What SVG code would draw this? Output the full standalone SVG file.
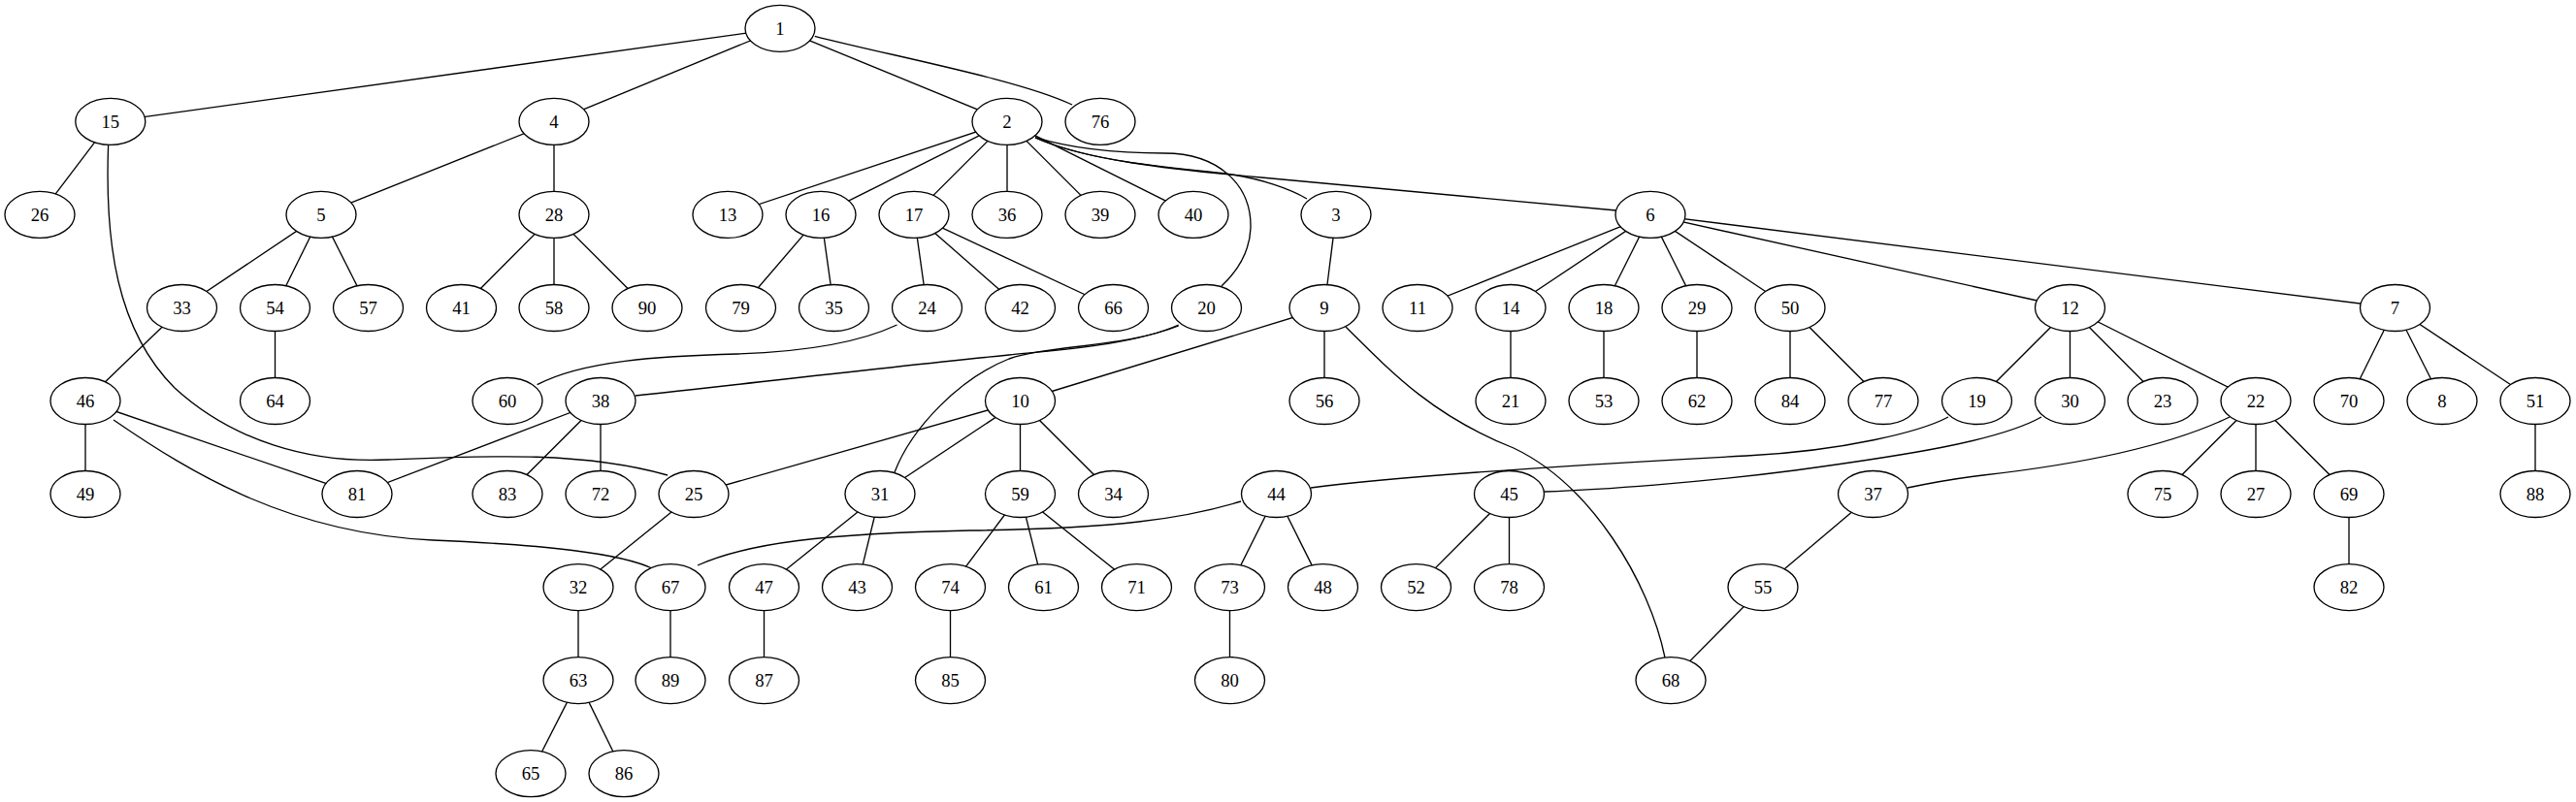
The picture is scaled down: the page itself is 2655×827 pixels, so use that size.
<svg xmlns="http://www.w3.org/2000/svg" width="2655" height="827" viewBox="0 0 2655 827">
<style>
.bg{fill:#fff}
#edges line,#edges path{stroke:#000;stroke-width:1.33;fill:none}
.n ellipse{fill:#fff;stroke:#000;stroke-width:1.33}
.n text{font-family:"Liberation Serif","Times New Roman",serif;font-size:18.67px;text-anchor:middle;fill:#000}
</style>
<rect class="bg" x="0" y="0" width="2655" height="827"/>
<g id="edges">
<line x1="804" y1="29.3" x2="113.8" y2="125.4"/>
<line x1="804" y1="29.3" x2="571" y2="125.4"/>
<line x1="804" y1="29.3" x2="1038" y2="125.4"/>
<path d="M839.7,37.3 C920,58 1050,82 1105,108"/>
<line x1="113.8" y1="125.4" x2="41" y2="221.4"/>
<path d="M111.6,150 C108,250 120,340 180,400 C240,455 320,478 400,474 C500,470 600,465 688,490"/>
<line x1="571" y1="125.4" x2="331" y2="221.4"/>
<line x1="571" y1="125.4" x2="571" y2="221.4"/>
<line x1="331" y1="221.4" x2="187.5" y2="317.5"/>
<line x1="331" y1="221.4" x2="283.5" y2="317.5"/>
<line x1="331" y1="221.4" x2="379.5" y2="317.5"/>
<line x1="571" y1="221.4" x2="475.5" y2="317.5"/>
<line x1="571" y1="221.4" x2="571" y2="317.5"/>
<line x1="571" y1="221.4" x2="667" y2="317.5"/>
<line x1="187.5" y1="317.5" x2="88" y2="413.5"/>
<line x1="283.5" y1="317.5" x2="283.5" y2="413.5"/>
<line x1="88" y1="413.5" x2="88" y2="509.5"/>
<line x1="88" y1="413.5" x2="368" y2="509.5"/>
<path d="M117,433 C200,490 300,550 446,557 C560,562 640,570 674,587"/>
<line x1="619" y1="413.5" x2="368" y2="509.5"/>
<line x1="619" y1="413.5" x2="523" y2="509.5"/>
<line x1="619" y1="413.5" x2="619" y2="509.5"/>
<line x1="1038" y1="125.4" x2="750" y2="221.4"/>
<line x1="1038" y1="125.4" x2="846" y2="221.4"/>
<line x1="1038" y1="125.4" x2="942" y2="221.4"/>
<line x1="1038" y1="125.4" x2="1038" y2="221.4"/>
<line x1="1038" y1="125.4" x2="1134" y2="221.4"/>
<line x1="1038" y1="125.4" x2="1230" y2="221.4"/>
<path d="M1067,141.7 C1110,155 1160,158 1200,158 C1255,158 1290,190 1289,235 C1288,260 1275,280 1259,295"/>
<path d="M1067,142 C1120,166 1200,172 1263,179 C1300,184 1330,195 1347,205"/>
<path d="M1067,142 C1120,165 1200,174 1300,183 C1450,197 1600,210 1666,217"/>
<line x1="846" y1="221.4" x2="763.5" y2="317.5"/>
<line x1="846" y1="221.4" x2="859.5" y2="317.5"/>
<line x1="942" y1="221.4" x2="955.5" y2="317.5"/>
<line x1="942" y1="221.4" x2="1051.5" y2="317.5"/>
<line x1="942" y1="221.4" x2="1147.5" y2="317.5"/>
<path d="M924.5,335 C880,356 820,363 760,365 C680,367 600,372 553.6,396.7"/>
<path d="M1214.7,335 C1170,355 1100,360 1040,366 C900,380 750,398 655,408"/>
<path d="M1214.7,336 C1160,358 1080,356 1040,370 C990,390 940,440 922,487"/>
<line x1="1377" y1="221.4" x2="1365" y2="317.5"/>
<line x1="1365" y1="317.5" x2="1365" y2="413.5"/>
<line x1="1365" y1="317.5" x2="1051.5" y2="413.5"/>
<path d="M1387,337 C1440,390 1480,430 1560,462 C1640,500 1700,600 1716,678"/>
<line x1="1051.5" y1="413.5" x2="715" y2="509.5"/>
<line x1="1051.5" y1="413.5" x2="907" y2="509.5"/>
<line x1="1051.5" y1="413.5" x2="1051.5" y2="509.5"/>
<line x1="1051.5" y1="413.5" x2="1147.5" y2="509.5"/>
<line x1="715" y1="509.5" x2="596" y2="605.6"/>
<line x1="907" y1="509.5" x2="787.5" y2="605.6"/>
<line x1="907" y1="509.5" x2="883.5" y2="605.6"/>
<line x1="1051.5" y1="509.5" x2="979.5" y2="605.6"/>
<line x1="1051.5" y1="509.5" x2="1075.5" y2="605.6"/>
<line x1="1051.5" y1="509.5" x2="1171.5" y2="605.6"/>
<path d="M1279,517 C1220,535 1150,545 1000,547 C850,550 770,560 719,583"/>
<line x1="1315.5" y1="509.5" x2="1267.5" y2="605.6"/>
<line x1="1315.5" y1="509.5" x2="1363.5" y2="605.6"/>
<line x1="1555.5" y1="509.5" x2="1459.5" y2="605.6"/>
<line x1="1555.5" y1="509.5" x2="1555.5" y2="605.6"/>
<line x1="1930.5" y1="509.5" x2="1817" y2="605.6"/>
<line x1="1817" y1="605.6" x2="1722" y2="701.6"/>
<line x1="1701" y1="221.4" x2="1461" y2="317.5"/>
<line x1="1701" y1="221.4" x2="1557" y2="317.5"/>
<line x1="1701" y1="221.4" x2="1653" y2="317.5"/>
<line x1="1701" y1="221.4" x2="1749" y2="317.5"/>
<line x1="1701" y1="221.4" x2="1845" y2="317.5"/>
<line x1="1701" y1="221.4" x2="2133.5" y2="317.5"/>
<line x1="1701" y1="221.4" x2="2468.5" y2="317.5"/>
<line x1="1557" y1="317.5" x2="1557" y2="413.5"/>
<line x1="1653" y1="317.5" x2="1653" y2="413.5"/>
<line x1="1749" y1="317.5" x2="1749" y2="413.5"/>
<line x1="1845" y1="317.5" x2="1845" y2="413.5"/>
<line x1="1845" y1="317.5" x2="1941" y2="413.5"/>
<line x1="2133.5" y1="317.5" x2="2037.5" y2="413.5"/>
<line x1="2133.5" y1="317.5" x2="2133.5" y2="413.5"/>
<line x1="2133.5" y1="317.5" x2="2229" y2="413.5"/>
<line x1="2133.5" y1="317.5" x2="2325" y2="413.5"/>
<path d="M2008,430 C1980,445 1900,465 1800,470 C1650,478 1450,490 1351,503"/>
<path d="M2104,430 C2060,455 1960,470 1850,485 C1750,498 1650,505 1592,507"/>
<path d="M2298,430 C2240,458 2150,478 2044,490 C2010,494 1985,499 1966,503"/>
<line x1="2325" y1="413.5" x2="2229" y2="509.5"/>
<line x1="2325" y1="413.5" x2="2325" y2="509.5"/>
<line x1="2325" y1="413.5" x2="2421" y2="509.5"/>
<line x1="2421" y1="509.5" x2="2421" y2="605.6"/>
<line x1="2468.5" y1="317.5" x2="2421" y2="413.5"/>
<line x1="2468.5" y1="317.5" x2="2517" y2="413.5"/>
<line x1="2468.5" y1="317.5" x2="2613" y2="413.5"/>
<line x1="2613" y1="413.5" x2="2613" y2="509.5"/>
<line x1="596" y1="605.6" x2="596" y2="701.6"/>
<line x1="596" y1="701.6" x2="547" y2="797.7"/>
<line x1="596" y1="701.6" x2="643" y2="797.7"/>
<line x1="691" y1="605.6" x2="691" y2="701.6"/>
<line x1="787.5" y1="605.6" x2="787.5" y2="701.6"/>
<line x1="979.5" y1="605.6" x2="979.5" y2="701.6"/>
<line x1="1267.5" y1="605.6" x2="1267.5" y2="701.6"/>
</g>
<g id="n1" class="n"><ellipse cx="804" cy="29.3" rx="36" ry="24"/><text x="804" y="35.8">1</text></g>
<g id="n15" class="n"><ellipse cx="113.8" cy="125.4" rx="36" ry="24"/><text x="113.8" y="131.9">15</text></g>
<g id="n4" class="n"><ellipse cx="571" cy="125.4" rx="36" ry="24"/><text x="571" y="131.9">4</text></g>
<g id="n2" class="n"><ellipse cx="1038" cy="125.4" rx="36" ry="24"/><text x="1038" y="131.9">2</text></g>
<g id="n76" class="n"><ellipse cx="1134" cy="125.4" rx="36" ry="24"/><text x="1134" y="131.9">76</text></g>
<g id="n26" class="n"><ellipse cx="41" cy="221.4" rx="36" ry="24"/><text x="41" y="227.9">26</text></g>
<g id="n5" class="n"><ellipse cx="331" cy="221.4" rx="36" ry="24"/><text x="331" y="227.9">5</text></g>
<g id="n28" class="n"><ellipse cx="571" cy="221.4" rx="36" ry="24"/><text x="571" y="227.9">28</text></g>
<g id="n13" class="n"><ellipse cx="750" cy="221.4" rx="36" ry="24"/><text x="750" y="227.9">13</text></g>
<g id="n16" class="n"><ellipse cx="846" cy="221.4" rx="36" ry="24"/><text x="846" y="227.9">16</text></g>
<g id="n17" class="n"><ellipse cx="942" cy="221.4" rx="36" ry="24"/><text x="942" y="227.9">17</text></g>
<g id="n36" class="n"><ellipse cx="1038" cy="221.4" rx="36" ry="24"/><text x="1038" y="227.9">36</text></g>
<g id="n39" class="n"><ellipse cx="1134" cy="221.4" rx="36" ry="24"/><text x="1134" y="227.9">39</text></g>
<g id="n40" class="n"><ellipse cx="1230" cy="221.4" rx="36" ry="24"/><text x="1230" y="227.9">40</text></g>
<g id="n3" class="n"><ellipse cx="1377" cy="221.4" rx="36" ry="24"/><text x="1377" y="227.9">3</text></g>
<g id="n6" class="n"><ellipse cx="1701" cy="221.4" rx="36" ry="24"/><text x="1701" y="227.9">6</text></g>
<g id="n33" class="n"><ellipse cx="187.5" cy="317.5" rx="36" ry="24"/><text x="187.5" y="324">33</text></g>
<g id="n54" class="n"><ellipse cx="283.5" cy="317.5" rx="36" ry="24"/><text x="283.5" y="324">54</text></g>
<g id="n57" class="n"><ellipse cx="379.5" cy="317.5" rx="36" ry="24"/><text x="379.5" y="324">57</text></g>
<g id="n41" class="n"><ellipse cx="475.5" cy="317.5" rx="36" ry="24"/><text x="475.5" y="324">41</text></g>
<g id="n58" class="n"><ellipse cx="571" cy="317.5" rx="36" ry="24"/><text x="571" y="324">58</text></g>
<g id="n90" class="n"><ellipse cx="667" cy="317.5" rx="36" ry="24"/><text x="667" y="324">90</text></g>
<g id="n79" class="n"><ellipse cx="763.5" cy="317.5" rx="36" ry="24"/><text x="763.5" y="324">79</text></g>
<g id="n35" class="n"><ellipse cx="859.5" cy="317.5" rx="36" ry="24"/><text x="859.5" y="324">35</text></g>
<g id="n24" class="n"><ellipse cx="955.5" cy="317.5" rx="36" ry="24"/><text x="955.5" y="324">24</text></g>
<g id="n42" class="n"><ellipse cx="1051.5" cy="317.5" rx="36" ry="24"/><text x="1051.5" y="324">42</text></g>
<g id="n66" class="n"><ellipse cx="1147.5" cy="317.5" rx="36" ry="24"/><text x="1147.5" y="324">66</text></g>
<g id="n20" class="n"><ellipse cx="1243.5" cy="317.5" rx="36" ry="24"/><text x="1243.5" y="324">20</text></g>
<g id="n9" class="n"><ellipse cx="1365" cy="317.5" rx="36" ry="24"/><text x="1365" y="324">9</text></g>
<g id="n11" class="n"><ellipse cx="1461" cy="317.5" rx="36" ry="24"/><text x="1461" y="324">11</text></g>
<g id="n14" class="n"><ellipse cx="1557" cy="317.5" rx="36" ry="24"/><text x="1557" y="324">14</text></g>
<g id="n18" class="n"><ellipse cx="1653" cy="317.5" rx="36" ry="24"/><text x="1653" y="324">18</text></g>
<g id="n29" class="n"><ellipse cx="1749" cy="317.5" rx="36" ry="24"/><text x="1749" y="324">29</text></g>
<g id="n50" class="n"><ellipse cx="1845" cy="317.5" rx="36" ry="24"/><text x="1845" y="324">50</text></g>
<g id="n12" class="n"><ellipse cx="2133.5" cy="317.5" rx="36" ry="24"/><text x="2133.5" y="324">12</text></g>
<g id="n7" class="n"><ellipse cx="2468.5" cy="317.5" rx="36" ry="24"/><text x="2468.5" y="324">7</text></g>
<g id="n46" class="n"><ellipse cx="88" cy="413.5" rx="36" ry="24"/><text x="88" y="420">46</text></g>
<g id="n64" class="n"><ellipse cx="283.5" cy="413.5" rx="36" ry="24"/><text x="283.5" y="420">64</text></g>
<g id="n60" class="n"><ellipse cx="523" cy="413.5" rx="36" ry="24"/><text x="523" y="420">60</text></g>
<g id="n38" class="n"><ellipse cx="619" cy="413.5" rx="36" ry="24"/><text x="619" y="420">38</text></g>
<g id="n10" class="n"><ellipse cx="1051.5" cy="413.5" rx="36" ry="24"/><text x="1051.5" y="420">10</text></g>
<g id="n56" class="n"><ellipse cx="1365" cy="413.5" rx="36" ry="24"/><text x="1365" y="420">56</text></g>
<g id="n21" class="n"><ellipse cx="1557" cy="413.5" rx="36" ry="24"/><text x="1557" y="420">21</text></g>
<g id="n53" class="n"><ellipse cx="1653" cy="413.5" rx="36" ry="24"/><text x="1653" y="420">53</text></g>
<g id="n62" class="n"><ellipse cx="1749" cy="413.5" rx="36" ry="24"/><text x="1749" y="420">62</text></g>
<g id="n84" class="n"><ellipse cx="1845" cy="413.5" rx="36" ry="24"/><text x="1845" y="420">84</text></g>
<g id="n77" class="n"><ellipse cx="1941" cy="413.5" rx="36" ry="24"/><text x="1941" y="420">77</text></g>
<g id="n19" class="n"><ellipse cx="2037.5" cy="413.5" rx="36" ry="24"/><text x="2037.5" y="420">19</text></g>
<g id="n30" class="n"><ellipse cx="2133.5" cy="413.5" rx="36" ry="24"/><text x="2133.5" y="420">30</text></g>
<g id="n23" class="n"><ellipse cx="2229" cy="413.5" rx="36" ry="24"/><text x="2229" y="420">23</text></g>
<g id="n22" class="n"><ellipse cx="2325" cy="413.5" rx="36" ry="24"/><text x="2325" y="420">22</text></g>
<g id="n70" class="n"><ellipse cx="2421" cy="413.5" rx="36" ry="24"/><text x="2421" y="420">70</text></g>
<g id="n8" class="n"><ellipse cx="2517" cy="413.5" rx="36" ry="24"/><text x="2517" y="420">8</text></g>
<g id="n51" class="n"><ellipse cx="2613" cy="413.5" rx="36" ry="24"/><text x="2613" y="420">51</text></g>
<g id="n49" class="n"><ellipse cx="88" cy="509.5" rx="36" ry="24"/><text x="88" y="516">49</text></g>
<g id="n81" class="n"><ellipse cx="368" cy="509.5" rx="36" ry="24"/><text x="368" y="516">81</text></g>
<g id="n83" class="n"><ellipse cx="523" cy="509.5" rx="36" ry="24"/><text x="523" y="516">83</text></g>
<g id="n72" class="n"><ellipse cx="619" cy="509.5" rx="36" ry="24"/><text x="619" y="516">72</text></g>
<g id="n25" class="n"><ellipse cx="715" cy="509.5" rx="36" ry="24"/><text x="715" y="516">25</text></g>
<g id="n31" class="n"><ellipse cx="907" cy="509.5" rx="36" ry="24"/><text x="907" y="516">31</text></g>
<g id="n59" class="n"><ellipse cx="1051.5" cy="509.5" rx="36" ry="24"/><text x="1051.5" y="516">59</text></g>
<g id="n34" class="n"><ellipse cx="1147.5" cy="509.5" rx="36" ry="24"/><text x="1147.5" y="516">34</text></g>
<g id="n44" class="n"><ellipse cx="1315.5" cy="509.5" rx="36" ry="24"/><text x="1315.5" y="516">44</text></g>
<g id="n45" class="n"><ellipse cx="1555.5" cy="509.5" rx="36" ry="24"/><text x="1555.5" y="516">45</text></g>
<g id="n37" class="n"><ellipse cx="1930.5" cy="509.5" rx="36" ry="24"/><text x="1930.5" y="516">37</text></g>
<g id="n75" class="n"><ellipse cx="2229" cy="509.5" rx="36" ry="24"/><text x="2229" y="516">75</text></g>
<g id="n27" class="n"><ellipse cx="2325" cy="509.5" rx="36" ry="24"/><text x="2325" y="516">27</text></g>
<g id="n69" class="n"><ellipse cx="2421" cy="509.5" rx="36" ry="24"/><text x="2421" y="516">69</text></g>
<g id="n88" class="n"><ellipse cx="2613" cy="509.5" rx="36" ry="24"/><text x="2613" y="516">88</text></g>
<g id="n32" class="n"><ellipse cx="596" cy="605.6" rx="36" ry="24"/><text x="596" y="612.1">32</text></g>
<g id="n67" class="n"><ellipse cx="691" cy="605.6" rx="36" ry="24"/><text x="691" y="612.1">67</text></g>
<g id="n47" class="n"><ellipse cx="787.5" cy="605.6" rx="36" ry="24"/><text x="787.5" y="612.1">47</text></g>
<g id="n43" class="n"><ellipse cx="883.5" cy="605.6" rx="36" ry="24"/><text x="883.5" y="612.1">43</text></g>
<g id="n74" class="n"><ellipse cx="979.5" cy="605.6" rx="36" ry="24"/><text x="979.5" y="612.1">74</text></g>
<g id="n61" class="n"><ellipse cx="1075.5" cy="605.6" rx="36" ry="24"/><text x="1075.5" y="612.1">61</text></g>
<g id="n71" class="n"><ellipse cx="1171.5" cy="605.6" rx="36" ry="24"/><text x="1171.5" y="612.1">71</text></g>
<g id="n73" class="n"><ellipse cx="1267.5" cy="605.6" rx="36" ry="24"/><text x="1267.5" y="612.1">73</text></g>
<g id="n48" class="n"><ellipse cx="1363.5" cy="605.6" rx="36" ry="24"/><text x="1363.5" y="612.1">48</text></g>
<g id="n52" class="n"><ellipse cx="1459.5" cy="605.6" rx="36" ry="24"/><text x="1459.5" y="612.1">52</text></g>
<g id="n78" class="n"><ellipse cx="1555.5" cy="605.6" rx="36" ry="24"/><text x="1555.5" y="612.1">78</text></g>
<g id="n55" class="n"><ellipse cx="1817" cy="605.6" rx="36" ry="24"/><text x="1817" y="612.1">55</text></g>
<g id="n82" class="n"><ellipse cx="2421" cy="605.6" rx="36" ry="24"/><text x="2421" y="612.1">82</text></g>
<g id="n63" class="n"><ellipse cx="596" cy="701.6" rx="36" ry="24"/><text x="596" y="708.1">63</text></g>
<g id="n89" class="n"><ellipse cx="691" cy="701.6" rx="36" ry="24"/><text x="691" y="708.1">89</text></g>
<g id="n87" class="n"><ellipse cx="787.5" cy="701.6" rx="36" ry="24"/><text x="787.5" y="708.1">87</text></g>
<g id="n85" class="n"><ellipse cx="979.5" cy="701.6" rx="36" ry="24"/><text x="979.5" y="708.1">85</text></g>
<g id="n80" class="n"><ellipse cx="1267.5" cy="701.6" rx="36" ry="24"/><text x="1267.5" y="708.1">80</text></g>
<g id="n68" class="n"><ellipse cx="1722" cy="701.6" rx="36" ry="24"/><text x="1722" y="708.1">68</text></g>
<g id="n65" class="n"><ellipse cx="547" cy="797.7" rx="36" ry="24"/><text x="547" y="804.2">65</text></g>
<g id="n86" class="n"><ellipse cx="643" cy="797.7" rx="36" ry="24"/><text x="643" y="804.2">86</text></g>
</svg>
